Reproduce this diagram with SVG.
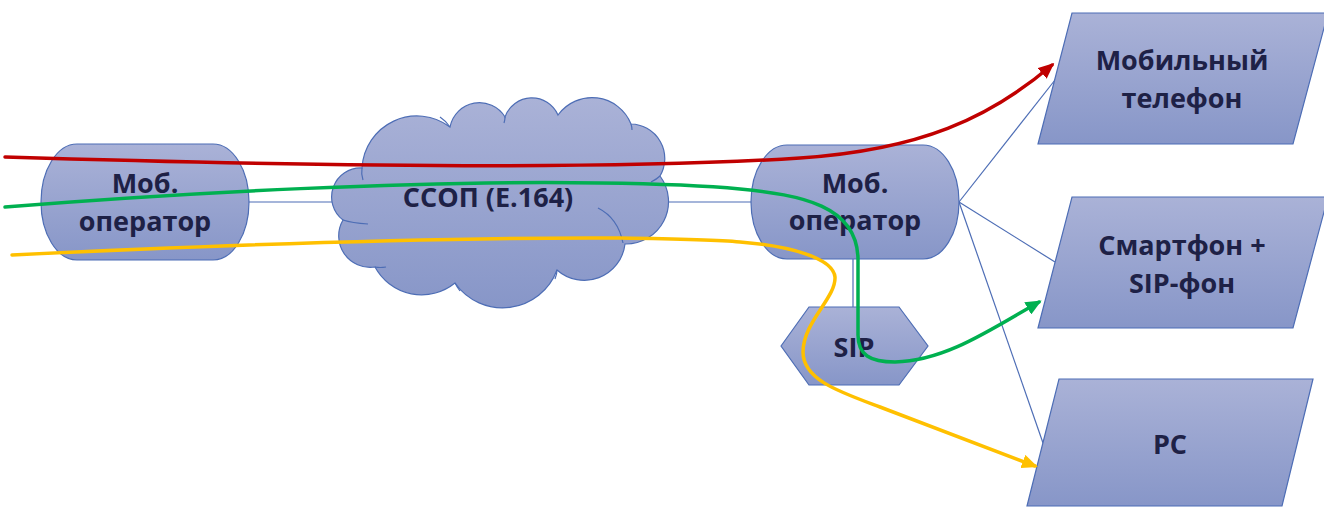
<svg xmlns="http://www.w3.org/2000/svg" width="1324" height="507" viewBox="0 0 1324 507">
<defs>
<linearGradient id="gf" x1="0" y1="0" x2="0" y2="1">
<stop offset="0" stop-color="#aab2d7"/>
<stop offset="1" stop-color="#8796c8"/>
</linearGradient>
<marker id="ar" viewBox="0 0 16 14" refX="13" refY="7" markerWidth="16" markerHeight="14" markerUnits="userSpaceOnUse" orient="auto">
<path d="M0,0 L16,7 L0,14 z" fill="#c00000"/>
</marker>
<marker id="ag" viewBox="0 0 16 14" refX="13" refY="7" markerWidth="16" markerHeight="14" markerUnits="userSpaceOnUse" orient="auto">
<path d="M0,0 L16,7 L0,14 z" fill="#00b050"/>
</marker>
<marker id="ay" viewBox="0 0 16 14" refX="13" refY="7" markerWidth="16" markerHeight="14" markerUnits="userSpaceOnUse" orient="auto">
<path d="M0,0 L16,7 L0,14 z" fill="#ffc000"/>
</marker>
</defs>
<style>
.shape{fill:url(#gf);stroke:#4d6db5;stroke-width:1.2}
.inner{fill:none;stroke:#4d6db5;stroke-width:1.2}
.link{stroke:#4d6db5;stroke-width:1.2;fill:none}
.lbl{font-family:"Open Sans","Noto Sans",sans-serif;font-weight:bold;font-size:27px;fill:#1e2146;text-anchor:middle}
.flow{fill:none;stroke-width:3.5;stroke-linecap:round}
</style>

<g id="links">
<line class="link" x1="249" y1="202" x2="334" y2="202"/>
<line class="link" x1="666" y1="202" x2="751" y2="202"/>
<line class="link" x1="853" y1="259" x2="853" y2="307"/>
<line class="link" x1="959" y1="202" x2="1055" y2="80"/>
<line class="link" x1="959" y1="202" x2="1055" y2="262"/>
<line class="link" x1="959" y1="202" x2="1043" y2="443"/>
</g>

<g id="op-left">
<rect class="shape" x="41" y="144" width="208" height="116" rx="36" ry="58"/>
<text class="lbl" x="145" y="193">Моб.</text>
<text class="lbl" x="145" y="231">оператор</text>
</g>

<g id="cloud">
<path class="shape" d="M343,220 A29,29 0 0 1 362,168 A55,55 0 0 1 450,127 A30,30 0 0 1 505,117 A28.5,28.5 0 0 1 558,115 A42,42 0 0 1 631,124 A34.5,34.5 0 0 1 660,176 A42.5,42.5 0 0 1 625,244 A41,41 0 0 1 557,270 A58,58 0 0 1 455,283 A53,53 0 0 1 375,267 A31.5,31.5 0 0 1 343,220 Z"/>
<path class="inner" d="M362,168 Q361,174 363,180"/>
<path class="inner" d="M343,220 Q352,223 368,224"/>
<path class="inner" d="M375,267 Q380,268 386,267"/>
<path class="inner" d="M455,283 Q457,287 460,291"/>
<path class="inner" d="M557,270 Q557,274 555,279"/>
<path class="inner" d="M598,208 Q618,218 623,243"/>
<path class="inner" d="M660,176 Q657,179 651,182"/>
<path class="inner" d="M631,124 Q632,127 632,130"/>
<path class="inner" d="M505,117 Q505,120 504,123"/>
<path class="inner" d="M450,127 Q446,121 440,117"/>
<text class="lbl" x="488" y="207">ССОП (E.164)</text>
</g>

<g id="op-right">
<rect class="shape" x="751" y="145" width="208" height="114" rx="36" ry="57"/>
<text class="lbl" x="855" y="193">Моб.</text>
<text class="lbl" x="855" y="230">оператор</text>
</g>

<g id="sip">
<polygon class="shape" points="781,346 809,307 899,307 928,346 899,385 809,385"/>
<text class="lbl" x="854" y="357">SIP</text>
</g>

<g id="mobile">
<polygon class="shape" points="1072,13 1328,13 1293,144 1038,144"/>
<text class="lbl" x="1182" y="70">Мобильный</text>
<text class="lbl" x="1182" y="108">телефон</text>
</g>

<g id="smartphone">
<polygon class="shape" points="1072,197 1328,197 1293,328 1038,328"/>
<text class="lbl" x="1182" y="255">Смартфон +</text>
<text class="lbl" x="1182" y="293">SIP-фон</text>
</g>

<g id="pc">
<polygon class="shape" points="1059,379 1313,379 1282,506 1027,506"/>
<text class="lbl" x="1170" y="454">PC</text>
</g>

<g id="flows">
<path class="flow" stroke="#c00000" marker-end="url(#ar)" d="M5,157 C 300,166 600,171 800,158 C 920,150 990,118 1052,65"/>
<path class="flow" stroke="#00b050" marker-end="url(#ag)" d="M5,207 C 180,193 420,180 600,183 C 680,184 720,187 740,189 C 800,195 858,205 858,260 L 858,335 C 858,355 870,362 895,362 C 945,361 990,330 1039,302"/>
<path class="flow" stroke="#ffc000" marker-end="url(#ay)" d="M12,255 C 200,246 450,237 620,238 C 690,239 720,240 740,242 C 790,246 833,258 835,277 C 836,298 803,322 803,352 C 803,380 840,392 880,407 L 1035,466"/>
</g>
</svg>
